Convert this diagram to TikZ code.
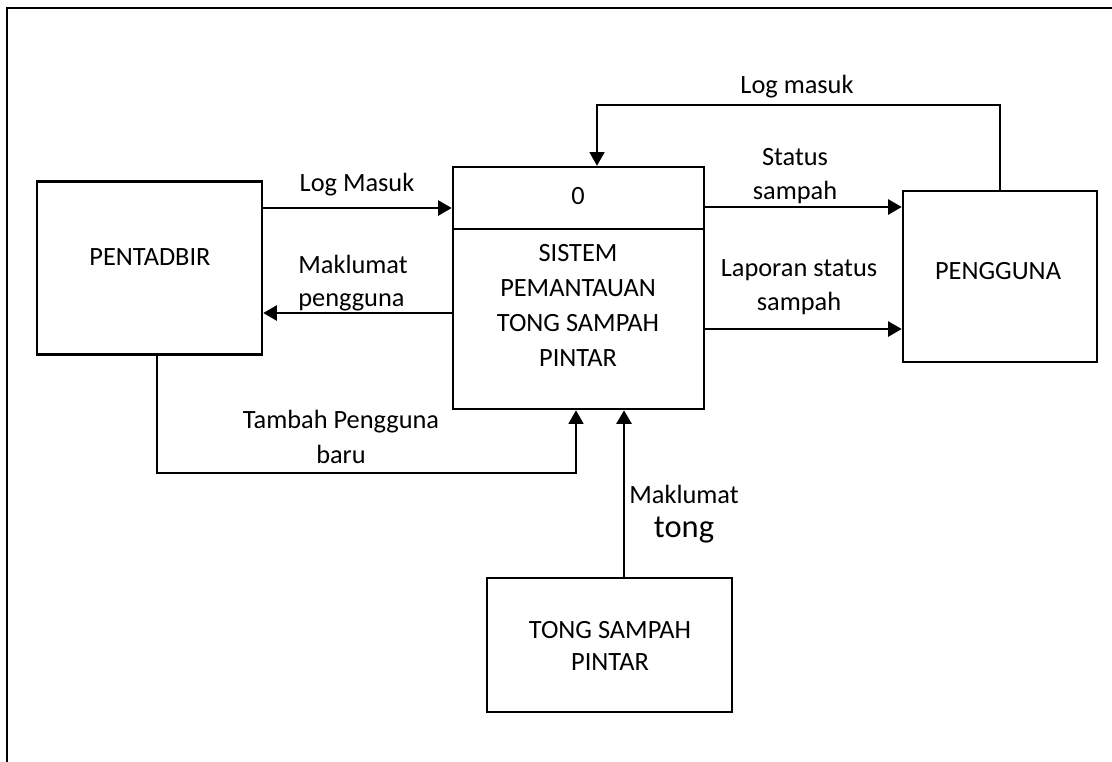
\documentclass[tikz,border=0pt]{standalone}
\usepackage{fontspec}
\setmainfont{Carlito}
\usetikzlibrary{arrows.meta}

\begin{document}
\begin{tikzpicture}[x=0.02cm, y=-0.02cm,
		box/.style = {draw, line width = 1.5pt, inner sep = 0pt, align = center, font = \fontsize{15}{19}\selectfont},
		lbl/.style = {inner sep = 0pt, align = center, font = \fontsize{15}{19}\selectfont},
		flow/.style = {line width = 1.3pt, -{Triangle[length = 0.27cm, width = 0.3cm]}},
		thinflow/.style = {line width = 0.7pt, -{Triangle[length = 0.27cm, width = 0.3cm]}}]
			
			\useasboundingbox (0, 0) rectangle (1112, 761);
			\draw[line width = 1.5pt] (7, 770) -- (7, 8) -- (1120, 8);
			
			\node[box, minimum width = 4.5cm, minimum height = 3.46cm] (pent) at (149.5, 268) {};
			\node[box, minimum width = 5.02cm, minimum height = 4.84cm] (proc) at (578.5, 288) {};
			\node[box, minimum width = 3.88cm, minimum height = 3.42cm] (peng) at (1000, 276.5) {};
			\node[box, minimum width = 4.9cm, minimum height = 2.68cm] (tong) at (609.5, 645) {};
			
			\node[lbl] (pentname) at (150, 257) {PENTADBIR};
			\node[lbl] (pengname) at (998, 271) {PENGGUNA};
			\node[lbl, font = \fontsize{15}{18}\selectfont] (tongname) at (610, 646) {TONG SAMPAH\\PINTAR};
			\node[lbl] (procid) at (578, 196) {0};
			\node[lbl, font = \fontsize{15}{20}\selectfont] (procname) at (578, 305.5) {SISTEM\\PEMANTAUAN\\TONG SAMPAH\\PINTAR};
			
			\coordinate (dv) at (578, 229);
			\draw[line width = 0.6pt] (proc.west |- dv) -- (proc.east |- dv);
			
			\coordinate (lm) at (350, 208);
			\coordinate (mp) at (350, 313);
			\coordinate (ss) at (800, 207);
			\coordinate (lp) at (800, 329);
			\coordinate (top) at (597, 105);
			\coordinate (tbl) at (157, 473);
			\coordinate (tbr) at (576, 473);
			\coordinate (mt) at (624, 500);
			
			\draw[flow] (pent.east |- lm) -- (proc.west |- lm);
			\draw[flow] (proc.west |- mp) -- (pent.east |- mp);
			\draw[flow] (proc.east |- ss) -- (peng.west |- ss);
			\draw[flow] (proc.east |- lp) -- (peng.west |- lp);
			\draw[thinflow] (peng.north) |- (top) -- (proc.north -| top);
			\draw[thinflow] (pent.south -| tbl) -- (tbl) -- (tbr) -- (proc.south -| tbr);
			\draw[flow] (tong.north -| mt) -- (proc.south -| mt);
			
			\node[lbl] (lmlbl) at (357, 185) {Log Masuk};
			\node[lbl, align = left, anchor = west, font = \fontsize{15}{18.5}\selectfont] (mplbl) at (298, 283) {Maklumat\\pengguna};
			\node[lbl] (sslbl) at (795, 176) {Status\\sampah};
			\node[lbl] (lplbl) at (799, 287) {Laporan status\\sampah};
			\node[lbl] (toplbl) at (797, 87) {Log masuk};
			\node[lbl, font = \fontsize{15}{20}\selectfont] (tblbl) at (341, 437) {Tambah Pengguna\\baru};
			\node[lbl] (mtlbl) at (684, 514) {Maklumat\\\fontsize{18.5}{20}\selectfont tong};
			
		\end{tikzpicture}
\end{document}
